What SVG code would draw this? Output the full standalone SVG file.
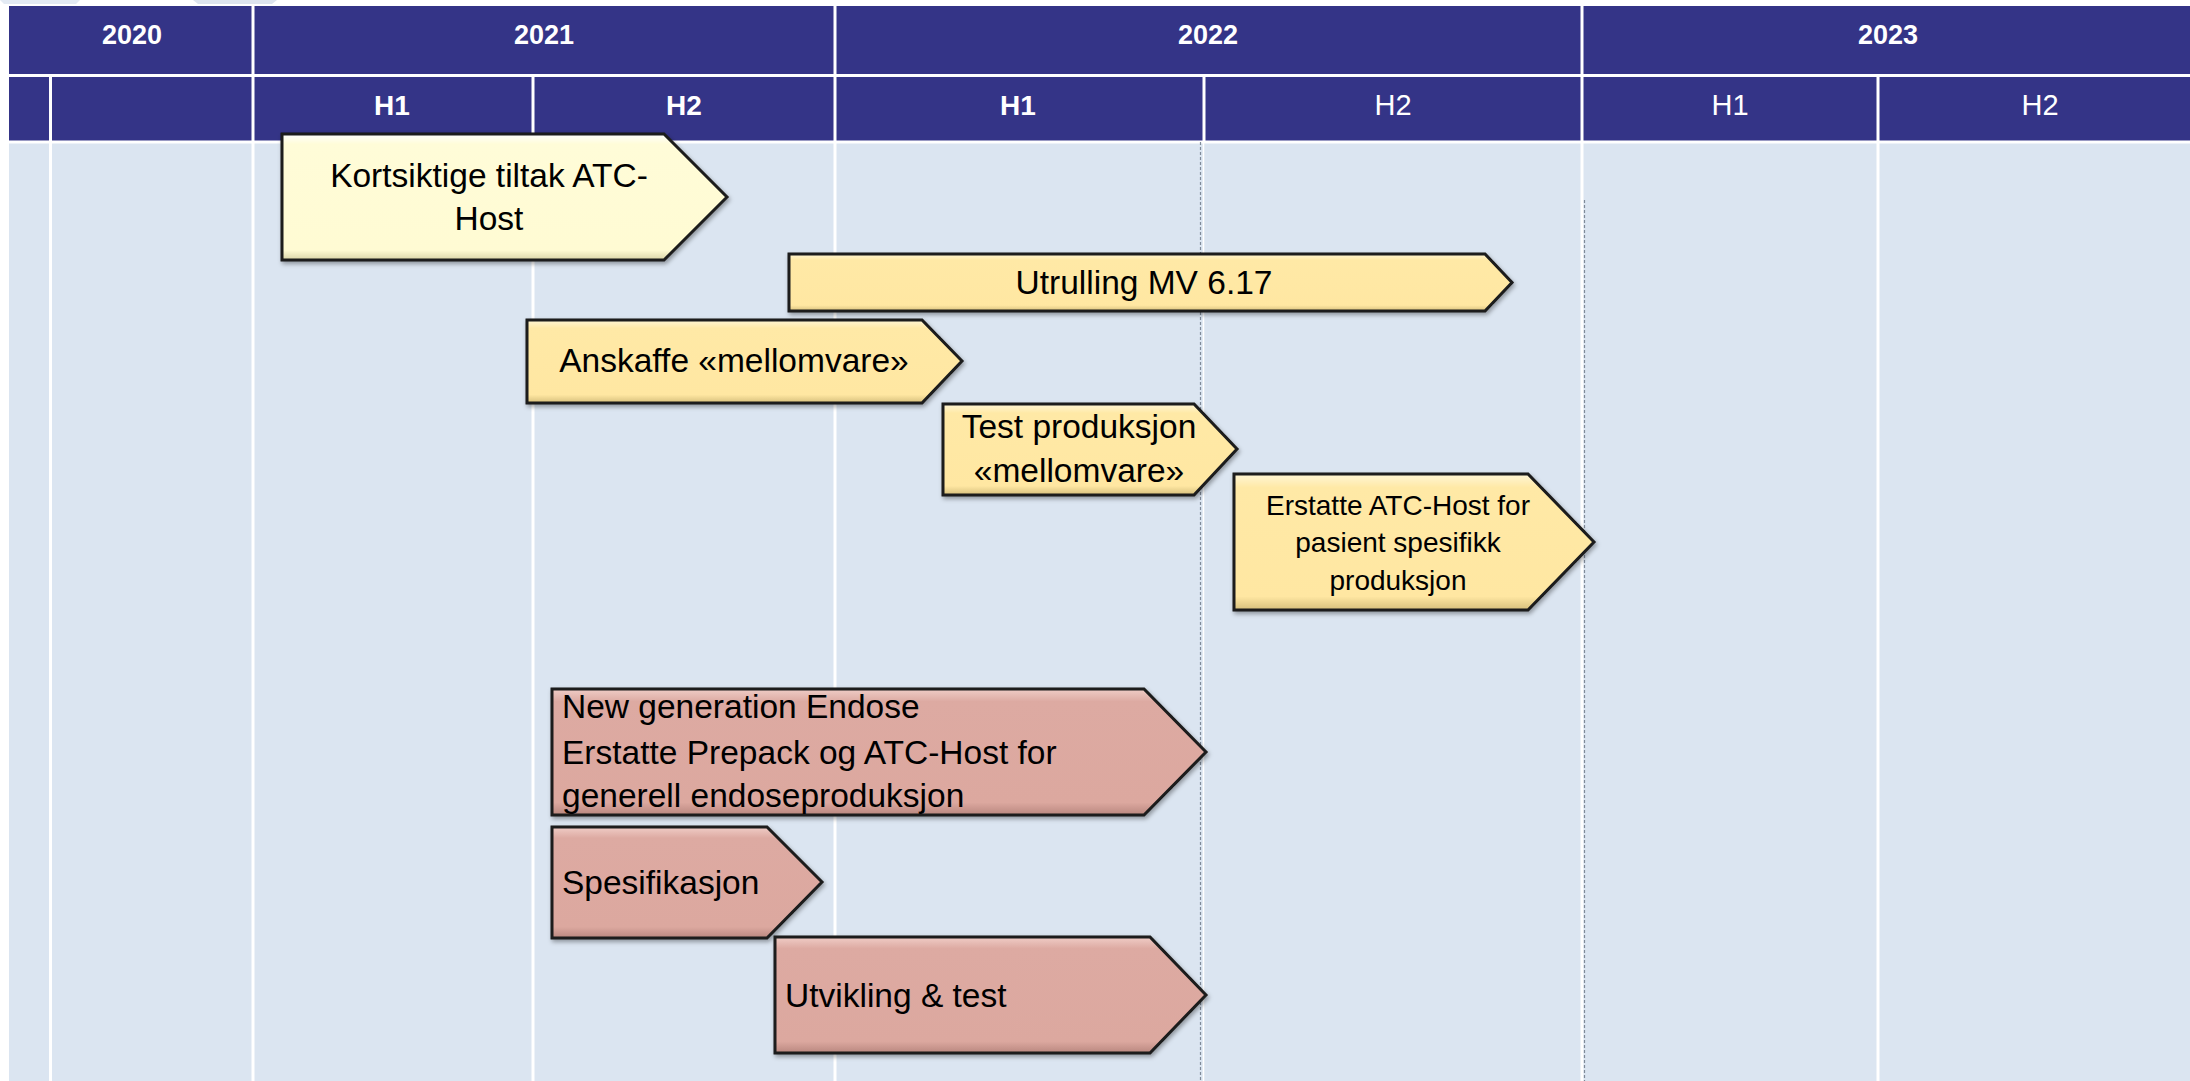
<svg xmlns="http://www.w3.org/2000/svg" width="2190" height="1081" viewBox="0 0 2190 1081">
<style>
.hdr{fill:#343487}
.yr{font-family:"Liberation Sans",Arial,sans-serif;font-weight:bold;font-size:27px;fill:#fff;text-anchor:middle}
.hb{font-family:"Liberation Sans",Arial,sans-serif;font-weight:bold;font-size:28px;fill:#fff;text-anchor:middle}
.hr{font-family:"Liberation Sans",Arial,sans-serif;font-size:29px;fill:#fff;text-anchor:middle}
.wl{stroke:#ffffff;stroke-width:3}
.dl{stroke:#7f8a99;stroke-width:1.2;stroke-dasharray:3 2}
.box{stroke:#1a1a1a;stroke-width:3;stroke-linejoin:miter;filter:url(#sh)}
.cream{fill:url(#gCream)}
.gold{fill:url(#gGold)}
.pink{fill:url(#gPink)}
.lbl{font-family:"Liberation Sans",Arial,sans-serif;font-size:33.5px;fill:#000}
.mid{text-anchor:middle}
.sm{font-size:28px}
</style>
<defs>
<linearGradient id="gCream" x1="0" y1="0" x2="0" y2="1">
<stop offset="0" stop-color="#ffffff"/><stop offset="0.08" stop-color="#fffcd8"/><stop offset="0.92" stop-color="#fffbd3"/><stop offset="1" stop-color="#d9d4a8"/>
</linearGradient>
<linearGradient id="gGold" x1="0" y1="0" x2="0" y2="1">
<stop offset="0" stop-color="#fff6d6"/><stop offset="0.1" stop-color="#ffe9a6"/><stop offset="0.9" stop-color="#ffe7a2"/><stop offset="1" stop-color="#d6bf7c"/>
</linearGradient>
<linearGradient id="gPink" x1="0" y1="0" x2="0" y2="1">
<stop offset="0" stop-color="#f0cdc7"/><stop offset="0.1" stop-color="#ddaaa2"/><stop offset="0.9" stop-color="#dca89f"/><stop offset="1" stop-color="#b9877f"/>
</linearGradient>
<filter id="sh" x="-5%" y="-10%" width="115%" height="130%">
<feDropShadow dx="1.5" dy="2.5" stdDeviation="2" flood-color="#000" flood-opacity="0.35"/>
</filter>
</defs>

<rect x="0" y="0" width="2190" height="1081" fill="#ffffff"/>
<polygon points="0,0 80,0 76,4 4,4" fill="#e3eaf3"/>
<polygon points="193,0 277,0 272,4 198,4" fill="#dde4ee"/>

<g id="grid">
<rect x="9" y="142" width="2181" height="939" fill="#dbe5f1"/>
<rect x="9" y="6" width="2181" height="136" class="hdr"/>
<line x1="9" y1="75.5" x2="2190" y2="75.5" class="wl"/>
<line x1="9" y1="142" x2="2190" y2="142" class="wl"/>
<line x1="253" y1="6" x2="253" y2="1081" class="wl"/>
<line x1="835" y1="6" x2="835" y2="1081" class="wl"/>
<line x1="1582" y1="6" x2="1582" y2="1081" class="wl"/>
<line x1="50.5" y1="75" x2="50.5" y2="1081" class="wl"/>
<line x1="533" y1="75" x2="533" y2="1081" class="wl"/>
<line x1="1204" y1="75" x2="1204" y2="142" class="wl"/>
<line x1="1878" y1="75" x2="1878" y2="1081" class="wl"/>
<line x1="1203.5" y1="142" x2="1203.5" y2="1081" stroke="#ffffff" stroke-width="1.5"/>
<line x1="1200.5" y1="142" x2="1200.5" y2="1081" class="dl"/>
<line x1="1584.5" y1="200" x2="1584.5" y2="1081" class="dl"/>
</g>

<g id="header-labels">
<text x="132" y="44" class="yr">2020</text>
<text x="544" y="44" class="yr">2021</text>
<text x="1208" y="44" class="yr">2022</text>
<text x="1888" y="44" class="yr">2023</text>
<text x="392" y="115" class="hb">H1</text>
<text x="684" y="115" class="hb">H2</text>
<text x="1018" y="115" class="hb">H1</text>
<text x="1393" y="115" class="hr">H2</text>
<text x="1730" y="115" class="hr">H1</text>
<text x="2040" y="115" class="hr">H2</text>
</g>

<g id="connectors"></g>

<g id="n-kortsiktige">
<polygon class="box cream" points="282,134 664,134 727,197 664,260 282,260"/>
<text x="489" y="187" class="lbl mid">Kortsiktige tiltak ATC-</text>
<text x="489" y="230" class="lbl mid">Host</text>
</g>

<g id="n-utrulling">
<polygon class="box gold" points="789,254 1485,254 1512,282.5 1485,311 789,311"/>
<text x="1144" y="294" class="lbl mid">Utrulling MV 6.17</text>
</g>

<g id="n-anskaffe">
<polygon class="box gold" points="527,320 922,320 962,361 922,403 527,403"/>
<text x="734" y="372" class="lbl mid">Anskaffe «mellomvare»</text>
</g>

<g id="n-test">
<polygon class="box gold" points="943,404 1194,404 1237,449 1194,495 943,495"/>
<text x="1079" y="438" class="lbl mid">Test produksjon</text>
<text x="1079" y="482" class="lbl mid">«mellomvare»</text>
</g>

<g id="n-erstatte">
<polygon class="box gold" points="1234,474 1528,474 1594,542 1528,610 1234,610"/>
<text x="1398" y="515" class="lbl mid sm">Erstatte ATC-Host for</text>
<text x="1398" y="552" class="lbl mid sm">pasient spesifikk</text>
<text x="1398" y="590" class="lbl mid sm">produksjon</text>
</g>

<g id="n-newgen">
<polygon class="box pink" points="552,689 1144,689 1206,752 1144,815 552,815"/>
<text x="562" y="718" class="lbl">New generation Endose</text>
<text x="562" y="764" class="lbl">Erstatte Prepack og ATC-Host for</text>
<text x="562" y="807" class="lbl">generell endoseproduksjon</text>
</g>

<g id="n-spesifikasjon">
<polygon class="box pink" points="552,827 767,827 822,882 767,938 552,938"/>
<text x="562" y="894" class="lbl">Spesifikasjon</text>
</g>

<g id="n-utvikling">
<polygon class="box pink" points="775,937 1150,937 1206,995 1150,1053 775,1053"/>
<text x="785" y="1007" class="lbl">Utvikling &amp; test</text>
</g>
</svg>
